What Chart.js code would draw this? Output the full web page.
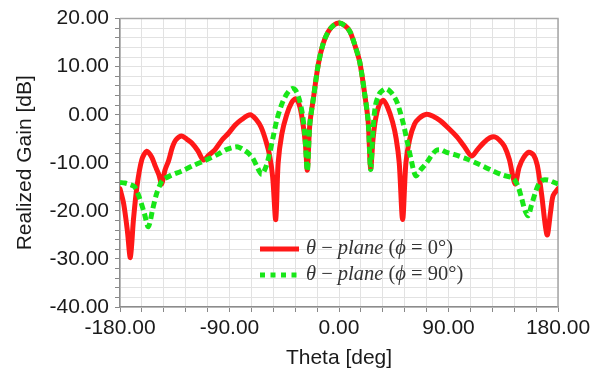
<!DOCTYPE html>
<html>
<head>
<meta charset="utf-8">
<script src="https://cdn.jsdelivr.net/npm/chart.js@4.4.1/dist/chart.umd.min.js"></script>
<style>
html,body{margin:0;padding:0;background:#fff;overflow:hidden}
#wrap{width:614px;height:371px;position:relative}
canvas{display:block}
</style>
</head>
<body>
<div id="wrap"><canvas id="c" width="614" height="371"></canvas></div>
<script>
// ---- Data ----
const seriesNames = ['θ − plane (ϕ = 0°)', 'θ − plane (ϕ = 90°)'];

const thetaPhi0 = [-180,-177,-174,-171.5,-169,-166,-162,-158,-154,-151,-148,-145.7,-143,-140,-137,-134,-129.3,-125,-121,-116,-111.5,-107,-102,-96,-91,-85.5,-80,-73,-68,-64,-60,-57,-54.5,-52,-50,-47,-43,-39,-35.5,-32,-29,-27.5,-26,-24,-21,-17,-13,-9,-5,0,5,9,13,17,21,24,26,28,30,33,36.5,40,44,47,49.5,52.3,55,58,62,66,72,78,83,90,97,103,109,114,119,124,128,132,136,140,144.7,148,151.5,156,160,163,166.5,171,174,176,180];
const gainPhi0 = [-15.4,-18.5,-24,-29.7,-22,-14.8,-9.3,-7.6,-8.8,-10.7,-12.5,-14.4,-11.5,-9.5,-6.8,-5.2,-4.4,-5.1,-5.9,-7.5,-9.4,-8.4,-7.3,-5.2,-3.9,-2.2,-1.0,0,-1.0,-2.6,-5.5,-8.5,-13,-21.8,-10,-4,0,2.5,3.3,1.5,-3,-6.5,-11.5,-2,3.5,10.5,14.8,17.2,18.5,19.1,18.5,17.3,14.5,11,4.5,-1.5,-11.2,-5,-1,2,3,1.5,-1.5,-5,-10,-21.8,-10,-5.2,-2,-0.7,0.1,-0.4,-1.2,-2.8,-4.6,-6.6,-8.6,-7.2,-5.8,-4.8,-4.6,-5.3,-6.6,-9.3,-14.4,-11,-9,-7.8,-8.4,-10.5,-16.5,-25,-20,-16.8,-15.4];

const thetaPhi90 = [-180,-176,-172,-168,-164,-160,-156.7,-153,-150,-147,-145,-138,-130,-120,-110,-100,-93,-87,-83,-79,-75,-71,-67,-63.5,-60,-57,-54,-51,-47,-43,-39,-36,-33,-30,-28,-26,-24,-21,-17,-13,-9,-5,0,5,9,13,17,21,24,26,28,30,33,36,39,43,47,50,53,56,59,63,67,72,76,80,84,88,95,105,115,125,135,143,147,150,153,155.5,158,161,164,167.5,172,176,180];
const gainPhi90 = [-14.1,-14.2,-14.5,-15,-17.3,-20.5,-23.3,-19.5,-16.5,-14.5,-13.6,-12.6,-11.8,-10.6,-9.5,-8.3,-7.3,-6.8,-6.7,-7.2,-7.9,-9,-11,-12.4,-10.8,-8,-4.5,-1,2.2,4.3,5.4,5.2,3.5,0,-4.5,-11.7,-2,3.5,10.5,14.8,17.2,18.5,19.1,18.5,17.3,14.5,11,4.5,-1.5,-11.4,-3,2,4.3,5.1,5.4,4.6,3,0.8,-2,-5.5,-9,-12.7,-11.5,-10,-8.5,-7.4,-7.3,-7.8,-8.3,-9.2,-10.3,-11.5,-12.6,-13.2,-14.8,-17.3,-20,-21,-19,-16.5,-14.5,-13.6,-13.6,-14,-14.4];

const xLabelEvery = 90;   // labelled x ticks: -180, -90, 0, 90, 180
const yLabelEvery = 10;   // labelled y ticks: -40 ... 20

// ---- Chart ----
const FONT = '"Liberation Sans", Arial, sans-serif';
const SERIF = '"Liberation Serif", "DejaVu Serif", serif';

const bgPlugin = {
  id: 'bg',
  beforeDraw(chart) {
    const ctx = chart.ctx;
    ctx.save();
    ctx.fillStyle = '#ffffff';
    ctx.fillRect(0, 0, chart.width, chart.height);
    ctx.restore();
  }
};

const framePlugin = {
  id: 'frame',
  beforeDatasetsDraw(chart) {
    const {ctx, chartArea: a} = chart;
    ctx.save();
    ctx.strokeStyle = '#a6a6a6';
    ctx.lineWidth = 1.5;
    ctx.beginPath();
    ctx.moveTo(a.left, a.top);
    ctx.lineTo(a.right, a.top);
    ctx.lineTo(a.right, a.bottom);
    ctx.stroke();
    ctx.restore();
  }
};

function runs(text) {
  const out = [];
  for (const ch of text) {
    const it = /[a-zθϕ]/.test(ch);
    if (out.length && out[out.length - 1].it === it) out[out.length - 1].t += ch;
    else out.push({t: ch, it});
  }
  return out;
}

const legendPlugin = {
  id: 'mathLegend',
  afterDraw(chart) {
    const ctx = chart.ctx;
    const x0 = 260, lineLen = 39, textX = 306, rows = [249, 275];
    const targetW = 147;
    // fit font size
    const base = 20;
    ctx.save();
    let w = 0;
    for (const r of runs(seriesNames[0])) {
      ctx.font = (r.it ? 'italic ' : '') + base + 'px ' + SERIF;
      w += ctx.measureText(r.t).width;
    }
    const size = base * targetW / w;
    chart.data.datasets.forEach((ds, i) => {
      const y = rows[i];
      ctx.strokeStyle = ds.borderColor;
      ctx.lineWidth = 5;
      ctx.lineCap = 'butt';
      ctx.setLineDash(ds.borderDash && ds.borderDash.length ? [5, 5.5] : []);
      ctx.beginPath();
      ctx.moveTo(x0, y);
      ctx.lineTo(x0 + lineLen, y);
      ctx.stroke();
      ctx.setLineDash([]);
      ctx.fillStyle = '#333333';
      ctx.textBaseline = 'middle';
      ctx.textAlign = 'left';
      let x = textX;
      for (const r of runs(ds.label)) {
        ctx.font = (r.it ? 'italic ' : '') + size.toFixed(2) + 'px ' + SERIF;
        ctx.fillText(r.t, x, y);
        x += ctx.measureText(r.t).width;
      }
    });
    ctx.restore();
  }
};

new Chart(document.getElementById('c'), {
  type: 'line',
  data: {
    datasets: [
      {
        label: seriesNames[0],
        data: thetaPhi0.map((t, i) => ({x: t, y: gainPhi0[i]})),
        borderColor: 'rgb(255,24,24)',
        borderWidth: 5,
        borderJoinStyle: 'round',
        borderCapStyle: 'round',
        pointRadius: 0,
        tension: 0.3,
        order: 2
      },
      {
        label: seriesNames[1],
        data: thetaPhi90.map((t, i) => ({x: t, y: gainPhi90[i]})),
        borderColor: 'rgb(24,230,24)',
        borderWidth: 5,
        borderDash: [7, 4],
        borderCapStyle: 'butt',
        pointRadius: 0,
        tension: 0.3,
        order: 1
      }
    ]
  },
  options: {
    responsive: false,
    animation: false,
    devicePixelRatio: 1,
    layout: {padding: {top: 13, right: 56, left: 0, bottom: 0}},
    plugins: {legend: {display: false}, tooltip: {enabled: false}},
    scales: {
      x: {
        type: 'linear',
        min: -180, max: 180,
        afterFit(s) { s.height = 64; },
        ticks: {
          stepSize: 18, autoSkip: false, maxRotation: 0, padding: 4,
          color: '#1a1a1a', font: {family: FONT, size: 21},
          callback: v => (Math.round(v) % xLabelEvery === 0 ? Number(v).toFixed(2) : '')
        },
        grid: {color: '#e2e2e2', lineWidth: 1, tickColor: '#888', tickLength: 5, drawTicks: true},
        border: {color: '#8c8c8c', width: 1.5},
        title: {display: true, text: 'Theta [deg]', color: '#1a1a1a', font: {family: FONT, size: 21}, padding: {top: 0, bottom: 0}}
      },
      y: {
        type: 'linear',
        min: -40, max: 20,
        afterFit(s) { s.width = 120; },
        ticks: {
          stepSize: 2, autoSkip: false, padding: 6,
          color: '#1a1a1a', font: {family: FONT, size: 21},
          callback: v => (Math.round(v) % yLabelEvery === 0 ? Number(v).toFixed(2) : '')
        },
        grid: {color: '#e2e2e2', lineWidth: 1, tickColor: '#888', tickLength: 5, drawTicks: true},
        border: {color: '#8c8c8c', width: 1.5},
        title: {display: true, text: 'Realized Gain [dB]', color: '#1a1a1a', font: {family: FONT, size: 21}, padding: {top: 13, bottom: 0}}
      }
    }
  },
  plugins: [bgPlugin, framePlugin, legendPlugin]
});
</script>
</body>
</html>
